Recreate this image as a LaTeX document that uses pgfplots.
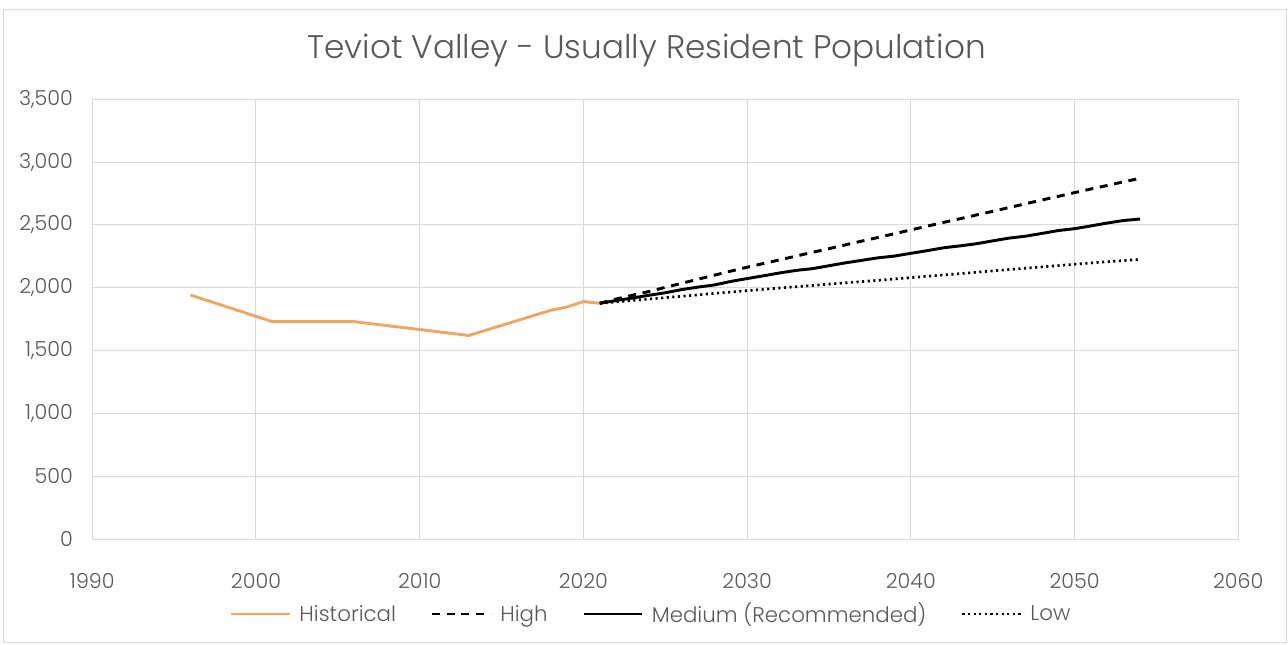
\documentclass[border=0pt]{standalone}
\usepackage{pgfplots}
\pgfplotsset{compat=1.18}
\usepackage{fontspec}
\setmainfont{Poppins}[UprightFont={* Light}]
\definecolor{histc}{RGB}{236,166,102}
\definecolor{gridc}{RGB}{217,217,217}
\definecolor{textc}{RGB}{89,89,89}

\pgfplotstableread{
year pop
1996 1942
2001 1730
2006 1730
2013 1620
2018 1820
2019 1847
2020 1890
2021 1876
}\historical

\pgfplotstableread{
year high medium low
2021 1876 1876 1876
2022 1910 1898 1887
2023 1940 1918 1899
2024 1970 1940 1910
2025 2003 1960 1921
2026 2035 1985 1932
2027 2068 2005 1943
2028 2100 2022 1955
2029 2132 2050 1966
2030 2163 2073 1977
2031 2193 2095 1987
2032 2222 2118 1998
2033 2252 2138 2008
2034 2282 2152 2018
2035 2311 2175 2029
2036 2341 2198 2039
2037 2371 2218 2049
2038 2400 2238 2059
2039 2430 2252 2070
2040 2460 2274 2080
2041 2490 2295 2091
2042 2520 2318 2102
2043 2549 2333 2112
2044 2579 2350 2123
2045 2608 2373 2134
2046 2638 2395 2145
2047 2668 2410 2155
2048 2698 2432 2166
2049 2727 2455 2176
2050 2757 2470 2187
2051 2786 2492 2197
2052 2814 2515 2207
2053 2843 2535 2216
2054 2871 2547 2226
}\projections

\begin{document}
\begin{tikzpicture}
\useasboundingbox (0,0) rectangle (966pt,483pt);
\draw[gridc, line width=0.75pt] (2.25pt,1.5pt) rectangle (964.5pt,475.5pt);
\node[text=textc, font=\fontsize{24.5}{28}\selectfont] at (485pt,445.5pt) {Teviot Valley - Usually Resident Population};
\begin{axis}[
  at={(69.2pt,78.75pt)}, anchor=south west,
  scale only axis, width=859.5pt, height=329.8pt,
  xmin=1990, xmax=2060, ymin=0, ymax=3500,
  xtick={1990,2000,...,2060}, ytick={0,500,...,3500},
  grid=major, major grid style={gridc, line width=0.75pt},
  axis line style={gridc, line width=0.75pt},
  tick style={draw=none},
  ticklabel style={text=textc, font=\fontsize{15.5}{18}\selectfont},
  /pgf/number format/assume math mode=true,
  x tick label style={/pgf/number format/1000 sep={}, yshift=-22pt},
  y tick label style={/pgf/number format/1000 sep={,}, xshift=-11pt},
  legend columns=4,
  legend style={at={(0.488,-0.1706)}, anchor=center, draw=none, fill=none,
    font=\fontsize{16}{19}\selectfont, text=textc,
    /tikz/every even column/.append style={column sep=24pt}},
  legend image code/.code={\draw[#1] (0pt,0pt) -- (44pt,0pt); \path (48pt,0pt);},
]
\addplot[histc, line width=2.2pt, line join=round] table[x=year, y=pop] {\historical};
\addlegendentry{Historical}
\addplot[black, line width=2.2pt, dash pattern=on 6pt off 5pt] table[x=year, y=high] {\projections};
\addlegendentry{High}
\addplot[black, line width=2.2pt, line join=round] table[x=year, y=medium] {\projections};
\addlegendentry{Medium (Recommended)}
\addplot[black, line width=2pt, dash pattern=on 1.6pt off 2.6pt] table[x=year, y=low] {\projections};
\addlegendentry{Low}
\end{axis}
\end{tikzpicture}
\end{document}
